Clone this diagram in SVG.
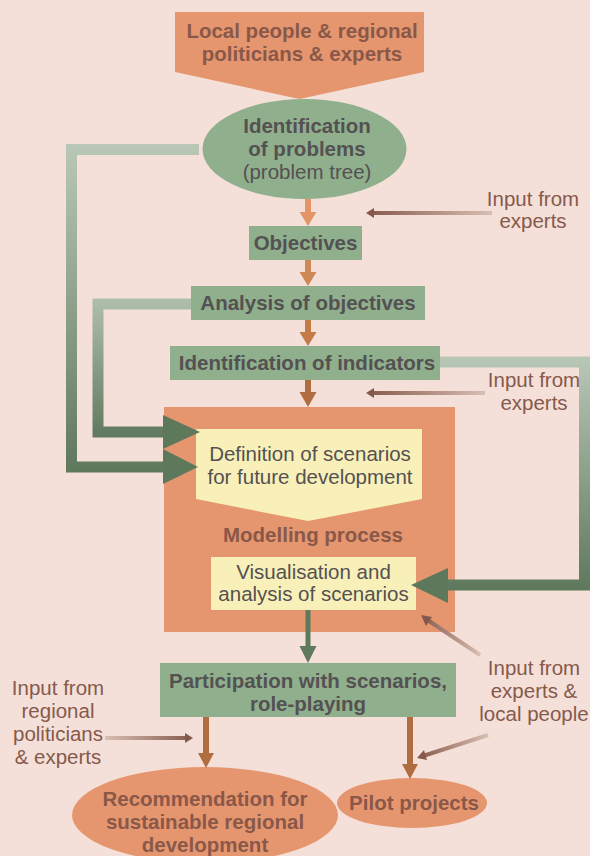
<svg xmlns="http://www.w3.org/2000/svg" width="590" height="856" viewBox="0 0 590 856">
<defs>
<linearGradient id="gL" gradientUnits="userSpaceOnUse" x1="0" y1="145" x2="0" y2="475"><stop offset="0" stop-color="#B9C7B7"/><stop offset="1" stop-color="#5E785C"/></linearGradient>
<linearGradient id="gL2" gradientUnits="userSpaceOnUse" x1="0" y1="298" x2="0" y2="440"><stop offset="0" stop-color="#B0BFAD"/><stop offset="1" stop-color="#5E785C"/></linearGradient>
<linearGradient id="gR" gradientUnits="userSpaceOnUse" x1="0" y1="357" x2="0" y2="592"><stop offset="0" stop-color="#B9C7B7"/><stop offset="1" stop-color="#5E785C"/></linearGradient>
<linearGradient id="gIn1" gradientUnits="userSpaceOnUse" x1="492" y1="0" x2="366" y2="0"><stop offset="0" stop-color="#D9BEB2"/><stop offset="1" stop-color="#84594B"/></linearGradient>
<linearGradient id="gIn2" gradientUnits="userSpaceOnUse" x1="485" y1="0" x2="366" y2="0"><stop offset="0" stop-color="#D9BEB2"/><stop offset="1" stop-color="#84594B"/></linearGradient>
<linearGradient id="gIn3" gradientUnits="userSpaceOnUse" x1="105" y1="0" x2="193" y2="0"><stop offset="0" stop-color="#D9BEB2"/><stop offset="1" stop-color="#84594B"/></linearGradient>
<linearGradient id="gIn4" gradientUnits="userSpaceOnUse" x1="480" y1="655" x2="421" y2="615"><stop offset="0" stop-color="#D9BEB2"/><stop offset="1" stop-color="#84594B"/></linearGradient>
<linearGradient id="gIn5" gradientUnits="userSpaceOnUse" x1="488" y1="735" x2="417" y2="758"><stop offset="0" stop-color="#D9BEB2"/><stop offset="1" stop-color="#84594B"/></linearGradient>
</defs>
<style>
.bg{fill:#F4E0D8}
.orange{fill:#E6966F}
.green{fill:#8FAF8D}
.yellow{fill:#F8F0B8}
.tb{font-family:"Liberation Sans",Arial,sans-serif;font-weight:bold;font-size:20.5px;text-anchor:middle}
.tn{font-family:"Liberation Sans",Arial,sans-serif;font-size:20.5px;text-anchor:middle}
.brown{fill:#8A5849}
.gray{fill:#555152}
.inp{font-family:"Liberation Sans",Arial,sans-serif;font-size:20.5px;text-anchor:middle;fill:#87594C}
</style>
<rect class="bg" x="0" y="0" width="590" height="856"/>

<g id="source">
  <polygon class="orange" points="175,12 424,12 424,72 299.5,99 175,72"/>
  <text class="tb brown" x="302" y="38" font-size="21px">Local people &amp; regional</text>
  <text class="tb brown" x="302" y="61" font-size="21px">politicians &amp; experts</text>
</g>
<g id="problems">
  <ellipse class="green" cx="304.5" cy="149" rx="102" ry="50"/>
  <text class="tb gray" x="307" y="133">Identification</text>
  <text class="tb gray" x="307" y="156">of problems</text>
  <text class="tn gray" x="307" y="179">(problem tree)</text>
</g>
<g id="objectives">
  <rect class="green" x="249" y="226" width="113" height="34"/>
  <text class="tb gray" x="305.5" y="250">Objectives</text>
</g>
<g id="analysis">
  <rect class="green" x="191" y="286" width="234" height="34"/>
  <text class="tb gray" x="308" y="310">Analysis of objectives</text>
</g>
<g id="indicators">
  <rect class="green" x="170" y="346" width="270" height="34"/>
  <text class="tb gray" x="307" y="370">Identification of indicators</text>
</g>
<g id="modelling">
  <rect class="orange" x="164" y="407" width="291" height="225"/>
  <text class="tb brown" x="313" y="542">Modelling process</text>
</g>
<g id="definition">
  <polygon class="yellow" points="196,429 422,429 422,499 308,521 196,499"/>
  <text class="tn gray" x="310" y="461">Definition of scenarios</text>
  <text class="tn gray" x="310" y="484">for future development</text>
</g>
<g id="visualisation">
  <rect class="yellow" x="211" y="557" width="205" height="53"/>
  <text class="tn gray" x="313.5" y="579">Visualisation and</text>
  <text class="tn gray" x="313.5" y="601">analysis of scenarios</text>
</g>
<g id="participation">
  <rect class="green" x="160" y="663" width="296" height="54"/>
  <text class="tb gray" x="308" y="688">Participation with scenarios,</text>
  <text class="tb gray" x="308" y="711">role-playing</text>
</g>
<g id="recommendation">
  <ellipse class="orange" cx="205" cy="815" rx="133" ry="48"/>
  <text class="tb brown" x="205" y="806">Recommendation for</text>
  <text class="tb brown" x="205" y="829">sustainable regional</text>
  <text class="tb brown" x="205" y="852">development</text>
</g>
<g id="pilot">
  <ellipse class="orange" cx="412" cy="803" rx="75" ry="25"/>
  <text class="tb brown" x="414" y="810">Pilot projects</text>
</g>

<g id="connectors">
  <rect x="305" y="199" width="6" height="15" fill="#E39565"/>
  <polygon points="299.5,212 316.5,212 308,226" fill="#E39565"/>
  <rect x="305" y="260" width="6" height="14" fill="#CD8855"/>
  <polygon points="299.5,272 316.5,272 308,286" fill="#CD8855"/>
  <rect x="305" y="320" width="6" height="14" fill="#C47A45"/>
  <polygon points="299.5,332 316.5,332 308,346" fill="#C47A45"/>
  <rect x="305" y="380" width="6" height="14" fill="#B06E40"/>
  <polygon points="299.5,392 316.5,392 308,407" fill="#B06E40"/>
  <path d="M199 149.5 H71.5 V467 H168" fill="none" stroke="url(#gL)" stroke-width="11"/>
  <polygon points="163,449 198,467 163,484" fill="#5E785C"/>
  <path d="M191 304 H98 V432 H168" fill="none" stroke="url(#gL2)" stroke-width="11"/>
  <polygon points="163,415 200,432 163,449" fill="#5E785C"/>
  <path d="M440 362 H584.5 V585 H446" fill="none" stroke="url(#gR)" stroke-width="11"/>
  <polygon points="448,568 411,585 448,603" fill="#5E785C"/>
  <rect x="305.5" y="610" width="5" height="38" fill="#5E7A5C"/>
  <polygon points="299.5,646 316.5,646 308,663" fill="#5E7A5C"/>
  <rect x="203" y="717" width="6" height="38" fill="#B06E40"/>
  <polygon points="198,753 214,753 206,768" fill="#B06E40"/>
  <rect x="407" y="717" width="6" height="49" fill="#B06E40"/>
  <polygon points="402,764 418,764 410,779" fill="#B06E40"/>
  <line x1="492" y1="213" x2="372" y2="213" stroke="url(#gIn1)" stroke-width="4"/>
  <polygon points="366,213 374,208 374,218" fill="#84594B"/>
  <line x1="485" y1="393" x2="372" y2="393" stroke="url(#gIn2)" stroke-width="4"/>
  <polygon points="366,393 374,388 374,398" fill="#84594B"/>
  <line x1="105" y1="738" x2="187" y2="738" stroke="url(#gIn3)" stroke-width="4"/>
  <polygon points="193,738 185,733 185,743" fill="#84594B"/>
  <line x1="480" y1="655" x2="426" y2="619" stroke="url(#gIn4)" stroke-width="4"/>
  <polygon points="421,615 432,617 426,626" fill="#84594B"/>
  <line x1="488" y1="735" x2="423" y2="756" stroke="url(#gIn5)" stroke-width="4"/>
  <polygon points="417,758 424,750 427,760" fill="#84594B"/>
</g>

<g id="inputs">
  <text class="inp" x="533" y="206">Input from</text>
  <text class="inp" x="533" y="228">experts</text>
  <text class="inp" x="534" y="387">Input from</text>
  <text class="inp" x="534" y="410">experts</text>
  <text class="inp" x="534" y="675">Input from</text>
  <text class="inp" x="534" y="698">experts &amp;</text>
  <text class="inp" x="534" y="721">local people</text>
  <text class="inp" x="58" y="695">Input from</text>
  <text class="inp" x="58" y="718">regional</text>
  <text class="inp" x="58" y="741">politicians</text>
  <text class="inp" x="58" y="764">&amp; experts</text>
</g>
</svg>
